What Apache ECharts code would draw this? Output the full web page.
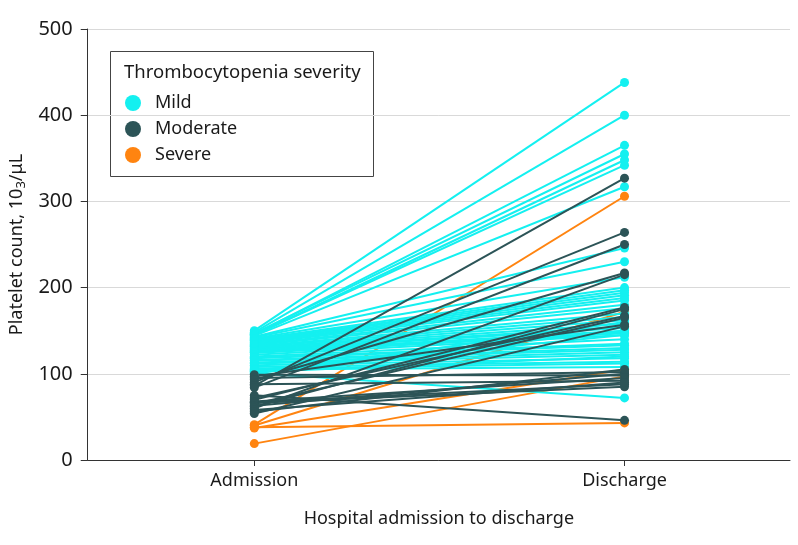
<!DOCTYPE html>
<html>
<head>
<meta charset="utf-8">
<script src="https://cdn.jsdelivr.net/npm/echarts@6/dist/echarts.min.js"></script>
<style>
  html, body { margin: 0; padding: 0; background: #fff; }
  #chart { width: 798px; height: 545px; }
</style>
</head>
<body>
<div id="chart"></div>
<script>
var categories = ['Admission', 'Discharge'];
var groups = ['Mild', 'Moderate', 'Severe'];
var yTicks = [0, 100, 200, 300, 400, 500];

// one entry per patient, paired by index
var mildAdmission = [150, 148, 147, 146, 145, 145, 144, 143, 142, 141, 140, 139, 138, 137, 136,
  135, 134, 133, 132, 131, 130, 129, 128, 127, 126, 125, 124, 122, 120, 119,
  118, 116, 115, 113, 112, 110, 108, 106, 105, 104, 103, 102, 101, 100];
var mildDischarge = [438, 400, 355, 365, 348, 342, 317, 246, 230, 212, 200, 197, 194, 191, 188,
  185, 180, 176, 170, 166, 162, 158, 155, 153, 150, 148, 147, 145, 140, 135,
  133, 130, 128, 125, 122, 118, 114, 112, 108, 150, 145, 120, 72, 160];

var moderateAdmission = [99, 97, 95, 93, 90, 88, 86, 84, 75, 72, 70, 68, 67, 66, 65, 63, 62, 60, 58, 56, 54];
var moderateDischarge = [98, 157, 102, 217, 264, 92, 327, 250, 46, 167, 177, 95, 88, 85, 165, 100, 175, 215, 90, 105, 155];

var severeAdmission = [41, 40, 38, 37, 19];
var severeDischarge = [306, 172, 43, 105, 97];

var colors = { Mild: '#14f0f0', Moderate: '#2c5457', Severe: '#ff8410' };
var fontFam = '"Noto Sans", sans-serif';

var chart = echarts.init(document.getElementById('chart'));

function patientSeries(name, adm, dis) {
  var out = [];
  for (var i = 0; i < adm.length; i++) {
    out.push({
      name: name,
      type: 'line',
      data: [[0, adm[i]], [1, dis[i]]],
      symbol: 'circle',
      symbolSize: 9,
      lineStyle: { width: 2, color: colors[name] },
      itemStyle: { color: colors[name] },
      emphasis: { disabled: true },
      animation: false
    });
  }
  return out;
}

var series = []
  .concat(patientSeries('Severe', severeAdmission, severeDischarge))
  .concat(patientSeries('Mild', mildAdmission, mildDischarge))
  .concat(patientSeries('Moderate', moderateAdmission, moderateDischarge));

var option = {
  backgroundColor: '#fff',
  textStyle: { fontFamily: fontFam },
  grid: { left: 81, right: 8, top: 29, bottom: 85 },
  legend: {
    data: groups,
    orient: 'vertical',
    left: 120,
    top: 89,
    icon: 'circle',
    itemWidth: 16,
    itemHeight: 16,
    itemGap: 8,
    textStyle: { fontSize: 18, color: '#1a1a1a', fontFamily: fontFam, padding: [0, 0, 0, 9] }
  },
  graphic: [
    {
      type: 'rect',
      left: 110,
      top: 51,
      shape: { width: 263, height: 125 },
      style: { fill: '#fff', stroke: '#444', lineWidth: 1 },
      z: 0
    },
    {
      type: 'text',
      left: 124,
      top: 63,
      style: { text: 'Thrombocytopenia severity', fontSize: 18.5, fill: '#1a1a1a', fontFamily: fontFam },
      z: 1
    }
  ],
  xAxis: {
    type: 'value',
    min: -0.45,
    max: 1.447,
    name: 'Hospital admission to discharge',
    nameLocation: 'middle',
    nameGap: 50,
    nameTextStyle: { fontSize: 18, color: '#1a1a1a' },
    splitLine: { show: false },
    axisLine: { show: true, onZero: false, lineStyle: { color: '#333', width: 1 } },
    axisTick: { show: true, customValues: [0, 1], length: 6, lineStyle: { color: '#333' } },
    axisLabel: {
      customValues: [0, 1],
      formatter: function (v) { return categories[Math.round(v)]; },
      fontSize: 18,
      color: '#1a1a1a',
      margin: 12
    }
  },
  yAxis: {
    type: 'value',
    min: yTicks[0],
    max: yTicks[yTicks.length - 1],
    interval: 100,
    name: '{a|Platelet count, 10}{s|3}{a|/μL}',
    nameLocation: 'middle',
    nameGap: 58,
    nameTextStyle: {
      rich: {
        a: { fontSize: 18, color: '#1a1a1a', fontFamily: fontFam },
        s: { fontSize: 13, color: '#1a1a1a', fontFamily: fontFam, padding: [8, 0, 0, 0] }
      }
    },
    axisLine: { show: true, onZero: false, lineStyle: { color: '#333', width: 1 } },
    axisTick: { show: true, length: 7, lineStyle: { color: '#333' } },
    axisLabel: { fontSize: 20, color: '#1a1a1a', margin: 15 },
    splitLine: { lineStyle: { color: '#d9d9d9', width: 1 } }
  },
  series: series
};

chart.setOption(option);
</script>
</body>
</html>
